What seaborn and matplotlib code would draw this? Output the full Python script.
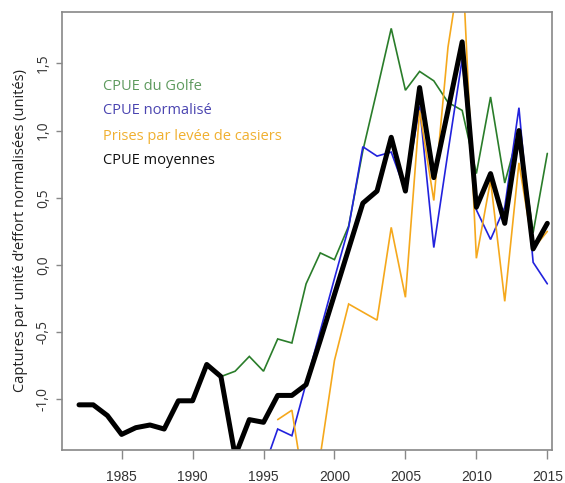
import numpy as np
import pandas as pd
import matplotlib
matplotlib.use("Agg")
import matplotlib.pyplot as plt
import seaborn as sns

nan = np.nan

years = list(range(1982, 2016))

# CPUE moyennes (black, thick)
cpue_moyennes = [
    -1.04, -1.04, -1.12, -1.26, -1.21, -1.19, -1.22, -1.01, -1.01, -0.74,
    -0.83, -1.42, -1.15, -1.17, -0.97, -0.97, -0.89, -0.56, -0.22, 0.12,
    0.46, 0.55, 0.95, 0.55, 1.32, 0.65, 1.15, 1.66, 0.43, 0.68,
    0.31, 1.00, 0.12, 0.31,
]
# CPUE du Golfe (green)
cpue_golfe = [
    nan, nan, nan, nan, nan, nan, nan, nan, nan, nan,
    -0.83, -0.79, -0.68, -0.79, -0.55, -0.58, -0.14, 0.09, 0.04, 0.29,
    0.85, 1.30, 1.76, 1.30, 1.44, 1.37, 1.21, 1.15, 0.68, 1.25,
    0.61, 1.00, 0.24, 0.83,
]
# CPUE normalisé (blue)
cpue_normalise = [
    nan, nan, nan, nan, nan, nan, nan, nan, nan, nan,
    nan, nan, nan, -1.52, -1.22, -1.27, -0.88, -0.49, -0.10, 0.28,
    0.88, 0.81, 0.84, 0.55, 1.18, 0.13, 0.84, 1.53, 0.41, 0.19,
    0.43, 1.17, 0.02, -0.14,
]
# Prises par levée de casiers (orange)
prises_casiers = [
    nan, nan, nan, nan, nan, nan, nan, nan, nan, nan,
    nan, nan, nan, nan, -1.15, -1.08, -1.75, -1.42, -0.71, -0.29,
    -0.35, -0.41, 0.28, -0.24, 1.15, 0.48, 1.62, 2.30, 0.05, 0.63,
    -0.27, 0.76, 0.12, 0.25,
]

series_names = [
    "CPUE du Golfe",
    "CPUE normalisé",
    "Prises par levée de casiers",
    "CPUE moyennes",
]
line_colors = ["#2a7d2a", "#2222dd", "#f5a81c", "black"]
text_colors = ["#5e9a5e", "#4a44b0", "#f0b030", "#111111"]
line_widths = [1.2, 1.2, 1.2, 3.6]

x_ticks = [1985, 1990, 1995, 2000, 2005, 2010, 2015]
y_ticks = [-1.0, -0.5, 0.0, 0.5, 1.0, 1.5]
y_tick_labels = ["-1,0", "-0,5", "0,0", "0,5", "1,0", "1,5"]


def main():
    df = pd.DataFrame({
        "year": years,
        series_names[0]: cpue_golfe,
        series_names[1]: cpue_normalise,
        series_names[2]: prises_casiers,
        series_names[3]: cpue_moyennes,
    })

    sns.set_style("white")
    plt.rcParams["font.family"] = ["Open Sans", "DejaVu Sans"]

    fig = plt.figure(figsize=(5.65, 4.83), dpi=100)
    ax = fig.add_axes([62 / 565, 1 - 450 / 483, 490 / 565, 438 / 483])

    for name, color, lw in zip(series_names, line_colors, line_widths):
        sns.lineplot(
            data=df,
            x="year",
            y=name,
            ax=ax,
            color=color,
            linewidth=lw,
            solid_joinstyle="miter" if lw < 2 else "round",
        )

    ax.set_xlim(1980.8, 2015.33)
    ax.set_ylim(-1.376, 1.882)

    ax.set_xticks(x_ticks)
    ax.set_xticklabels([str(y) for y in x_ticks],
                       family=["Liberation Sans", "DejaVu Sans"],
                       fontsize=10, color="#333333")
    ax.set_yticks(y_ticks)
    ax.set_yticklabels(y_tick_labels, rotation=90, va="center",
                       fontsize=10, color="#333333")
    ax.tick_params(axis="x", direction="out", length=6.5, width=1,
                   color="#888888", pad=8, bottom=True)
    ax.tick_params(axis="y", direction="out", length=4, width=1,
                   color="#888888", pad=4, left=True)

    for spine in ax.spines.values():
        spine.set_color("#888888")
        spine.set_linewidth(1.2)
        spine.set_visible(True)

    ax.set_xlabel("")
    ax.set_ylabel("Captures par unité d’effort normalisées (unités)",
                  fontsize=10.5, color="#222222", labelpad=6)

    # text legend in upper left
    for i, (name, tcolor) in enumerate(zip(series_names, text_colors)):
        ax.text(
            103, 86 + 25 * i, name,
            transform=None,
            fontsize=10.5,
            color=tcolor,
            ha="left",
            va="center",
        )
    # transform=None uses display pixels from bottom; convert manually
    for t in ax.texts:
        x, y = t.get_position()
        t.set_transform(fig.transFigure)
        t.set_position((x / 565, 1 - y / 483))

    fig.savefig("out.png", dpi=100)


if __name__ == "__main__":
    main()
